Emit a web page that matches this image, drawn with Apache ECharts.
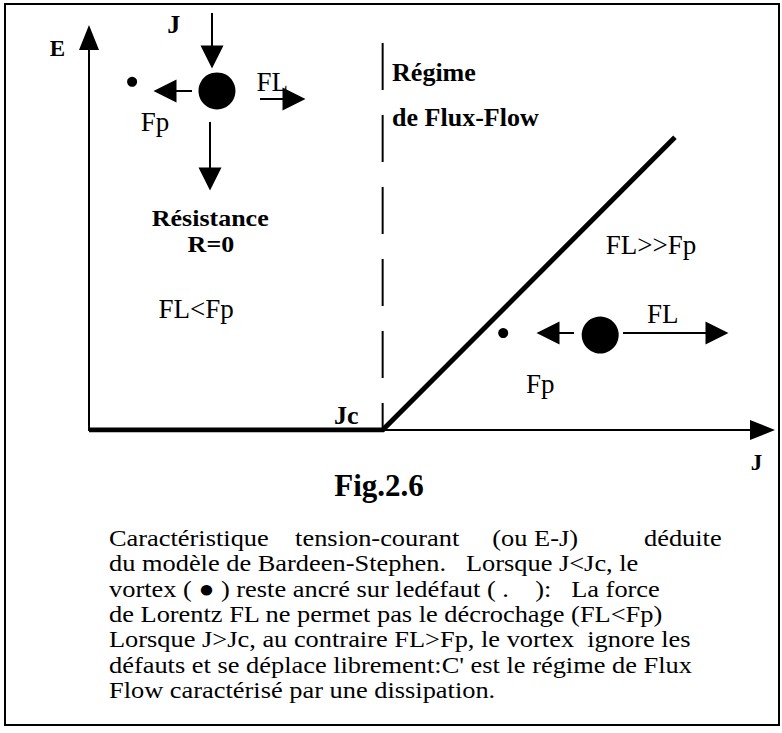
<!DOCTYPE html>
<html><head><meta charset="utf-8">
<script src="https://cdn.jsdelivr.net/npm/echarts@6/dist/echarts.min.js"></script>
<style>html,body{margin:0;padding:0;background:#fff}#c{width:782px;height:733px}</style>
</head><body><div id="c"></div>
<script>
// E-J characteristic (Bardeen-Stephen model): E = 0 for J<Jc, linear above Jc
const curveJ = [0, 43.6, 87.0];
const curveE = [0, 0, 74.6];
const jc = 43.6;
const dashTopE = 98.6;

// vortex (big dot) and defect (small dot) positions
const vortexPts = [[19.0, 86.4], [75.9, 24.2]];
const defectPts = [[6.4, 88.7], [61.5, 24.7]];

// force arrows [fromJ, fromE, toJ, toE]
const arrowSegs = [
  [18.26, 106.24, 18.26, 95.03],
  [15.29, 86.37, 11.28, 86.37],
  [25.39, 84.33, 30.44, 84.33],
  [17.97, 78.47, 17.97, 63.95],
  [72.01, 24.71, 68.15, 24.71],
  [79.29, 24.71, 93.24, 24.71]
];

// annotation texts [text, J, E]
const regularLabels = [['FL', 27.2, 88.7], ['Fp', 9.8, 78.5], ['FL<Fp', 15.9, 30.8], ['FL>>Fp', 83.45, 47.1], ['FL', 85.2, 29.6], ['Fp', 67.0, 11.7]];
const boldLabels = [['J', 12.6, 103.4], ['Jc', 38.2, 3.8]];
const stateLabels = [['Résistance', 18.0, 54.1], ['R=0', 18.1, 47.5]];
const boldLeftLabels = [['Régime', 45.0, 91.0], ['de Flux-Flow', 45.0, 79.5]];
// axis titles [text, J, E]
const axisTitles = [['E', -4.68, 97.2], ['J', 99.1, -8.4]];

const figTitle = 'Fig.2.6';
const captionLines = [
  'Caractéristique    tension-courant     (ou E-J)          déduite',
  'du modèle de Bardeen-Stephen.   Lorsque J<Jc, le',
  'vortex ( \u25CF ) reste ancré sur ledéfaut ( .    ):   La force',
  'de Lorentz FL ne permet pas le décrochage (FL<Fp)',
  'Lorsque J>Jc, au contraire FL>Fp, le vortex  ignore les',
  'défauts et se déplace librement:C\' est le régime de Flux',
  'Flow caractérisé par une dissipation.'
];

const FONT = 'Liberation Serif, Times New Roman, serif';
const chart = echarts.init(document.getElementById('c'), null, {renderer: 'svg'});

function labelSeries(list, bold, size, align) {
  return {
    type: 'scatter', clip: false, silent: true, z: 10,
    symbolSize: 0, itemStyle: {color: '#000'},
    data: list.map(l => ({name: l[0], value: [l[1], l[2]]})),
    label: {
      show: true, position: 'inside', formatter: p => p.name,
      fontFamily: FONT, fontSize: size, lineHeight: 21, fontWeight: bold ? 'bold' : 'normal',
      color: '#000', textBorderWidth: 0, textShadowBlur: 0, opacity: 1,
      align: align || 'center', verticalAlign: 'middle'
    },
    labelLayout: {hideOverlap: false}
  };
}

const capStep = 25.3;
const graphics = [
  {type: 'rect', shape: {x: 5, y: 4, width: 774, height: 721}, style: {fill: 'none', stroke: '#000', lineWidth: 2}},
  {type: 'text', x: 379, y: 485, style: {text: figTitle, fontFamily: FONT, fontSize: 31, fontWeight: 'bold', fill: '#000', align: 'center', verticalAlign: 'middle'}},
  {type: 'text', x: 109, y: 538 - capStep / 2, scaleX: 1.1, style: {text: captionLines.join('\n'), fontFamily: FONT, fontSize: 24, lineHeight: capStep, fill: '#000', align: 'left', verticalAlign: 'top'}}
];

const axisCommon = {
  type: 'value', min: 0, max: 100,
  axisTick: {show: false}, axisLabel: {show: false}, splitLine: {show: false},
  axisLine: {show: true, symbol: ['none', 'triangle'], symbolSize: [20, 25], lineStyle: {color: '#000', width: 2}}
};

chart.setOption({
  animation: false,
  backgroundColor: '#fff',
  grid: {left: 89, right: 19.5, top: 37.5, bottom: 303},
  xAxis: Object.assign({}, axisCommon),
  yAxis: Object.assign({}, axisCommon),
  graphic: graphics,
  series: [
    {type: 'line', z: 6, silent: true, symbol: 'none', data: curveJ.map((j, i) => [j, curveE[i]]),
     lineStyle: {color: '#000', width: 5, join: 'miter'}},
    {type: 'line', z: 4, silent: true, symbol: 'none', data: [[jc, dashTopE], [jc, 0]],
     lineStyle: {color: '#000', width: 2, type: [47, 25]}},
    {type: 'lines', coordinateSystem: 'cartesian2d', clip: false, silent: true, z: 7,
     symbol: ['none', 'triangle'], symbolSize: 23,
     lineStyle: {color: '#000', width: 2, opacity: 1},
     data: arrowSegs.map(s => ({coords: [[s[0], s[1]], [s[2], s[3]]]}))},
    {type: 'scatter', clip: false, silent: true, z: 8, symbol: 'circle', symbolSize: 37,
     itemStyle: {color: '#000', opacity: 1}, data: vortexPts},
    {type: 'scatter', clip: false, silent: true, z: 8, symbol: 'circle', symbolSize: 10,
     itemStyle: {color: '#000', opacity: 1}, data: defectPts},
    labelSeries(regularLabels, false, 27),
    labelSeries(boldLabels, true, 26),
    labelSeries(boldLeftLabels, true, 26, 'left'),
    labelSeries(axisTitles, true, 23)
  ]
});

// "Résistance / R=0" placed through the grid's scales (slightly widened text)
const stateGraphics = stateLabels.map(l => {
  const p = chart.convertToPixel({gridIndex: 0}, [l[1], l[2]]);
  return {type: 'text', x: p[0], y: p[1], scaleX: 1.13, z: 100,
    style: {text: l[0], fontFamily: FONT, fontSize: 23, fontWeight: 'bold', fill: '#000', align: 'center', verticalAlign: 'middle'}};
});
chart.setOption({graphic: graphics.concat(stateGraphics)});
</script></body></html>
